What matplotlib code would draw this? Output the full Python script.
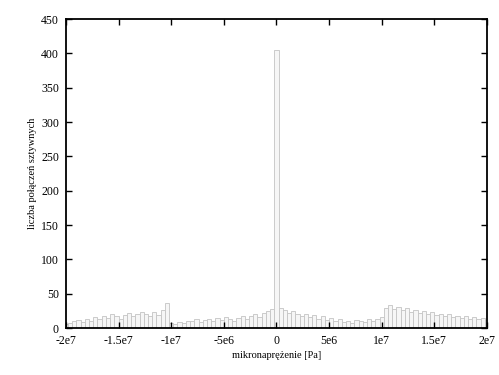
import numpy as np
import matplotlib
matplotlib.use("Agg")
import matplotlib.pyplot as plt

# histogram of microstress, bins of 4e5 Pa centred from -2e7 to 2e7
bin_width = 4e5
bin_centers = np.arange(101) * bin_width - 2e7
counts = [6, 8, 10, 12, 9, 14, 11, 16, 13, 18, 15, 20, 17, 14, 19, 22, 18, 21, 24, 20, 17, 23, 19, 26, 36,
          8, 6, 9, 7, 11, 10, 13, 9, 12, 14, 10, 15, 12, 16, 13, 11, 15, 18, 14, 17, 20, 16, 22, 25, 28,
          405,
          30, 26, 22, 25, 20, 18, 21, 16, 19, 14, 17, 12, 15, 10, 13, 9, 11, 8, 12, 10, 9, 13, 11, 14, 16,
          30, 33, 28, 31, 26, 29, 24, 27, 22, 25, 20, 23, 19, 21, 17, 20, 16, 18, 15, 17, 14, 16, 13, 15, 12]

xticks = [-2e7, -1.5e7, -1e7, -5e6, 0, 5e6, 1e7, 1.5e7, 2e7]
xticklabels = ["-2e7", "-1.5e7", "-1e7", "-5e6", "0", "5e6", "1e7", "1.5e7", "2e7"]
yticks = [0, 50, 100, 150, 200, 250, 300, 350, 400, 450]

plt.rcParams['font.family'] = ['Liberation Serif', 'DejaVu Serif']

fig = plt.figure(figsize=(4.99, 3.75), dpi=100)
ax = fig.add_axes([0.132, 0.125, 0.844, 0.824])

ax.bar(bin_centers, counts, width=bin_width, color="#f6f6f6", edgecolor="#c4c4c4", linewidth=0.6)

ax.set_xlim(-2e7, 2e7)
ax.set_ylim(0, 450)
ax.set_xticks(xticks)
ax.set_xticklabels(xticklabels)
ax.set_yticks(yticks)
ax.tick_params(direction="in", top=True, right=True, labelsize=8.5, length=4, width=1, pad=5)
for s in ax.spines.values():
    s.set_linewidth(1.3)

ax.set_xlabel("mikronaprężenie [Pa]", fontsize=7.5, labelpad=3)
ax.set_ylabel("liczba połączeń sztywnych", fontsize=7.5, labelpad=3)

fig.savefig("out.png", dpi=100)
